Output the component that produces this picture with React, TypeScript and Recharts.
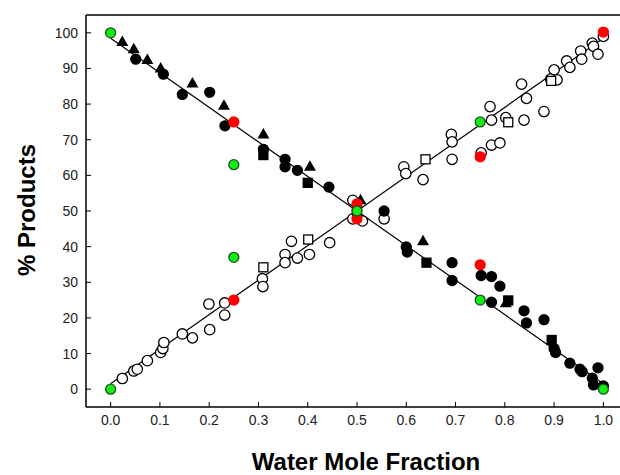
import { ReferenceLine, Scatter, ScatterChart, XAxis, YAxis } from 'recharts';

const xTicks = [0, 0.1, 0.2, 0.3, 0.4, 0.5, 0.6, 0.7, 0.8, 0.9, 1.0];
const yTicks = [0, 10, 20, 30, 40, 50, 60, 70, 80, 90, 100];

// product falling with water fraction (filled symbols)
const fallCircles = [
  { x: 0.051, y: 92.6 }, { x: 0.107, y: 88.4 }, { x: 0.1455, y: 82.7 }, { x: 0.201, y: 83.3 },
  { x: 0.232, y: 73.9 }, { x: 0.31, y: 67.3 }, { x: 0.354, y: 64.5 }, { x: 0.354, y: 62.4 },
  { x: 0.379, y: 61.4 }, { x: 0.443, y: 56.7 }, { x: 0.555, y: 50.0 }, { x: 0.6, y: 39.9 },
  { x: 0.602, y: 38.5 }, { x: 0.693, y: 35.5 }, { x: 0.693, y: 30.5 }, { x: 0.752, y: 31.9 },
  { x: 0.773, y: 31.6 }, { x: 0.79, y: 28.9 }, { x: 0.773, y: 24.4 }, { x: 0.839, y: 22.0 },
  { x: 0.844, y: 18.6 }, { x: 0.8795, y: 19.5 }, { x: 0.9, y: 11.4 }, { x: 0.903, y: 10.3 },
  { x: 0.932, y: 7.3 }, { x: 0.9525, y: 5.6 }, { x: 0.957, y: 4.9 }, { x: 0.989, y: 6.0 },
  { x: 0.9775, y: 3.1 }, { x: 0.98, y: 1.2 }, { x: 1.0, y: 0.9 },
];
const fallTriangles = [
  { x: 0.0237, y: 97.4 }, { x: 0.047, y: 95.4 }, { x: 0.0745, y: 92.4 }, { x: 0.1015, y: 90.0 },
  { x: 0.166, y: 85.8 }, { x: 0.23, y: 79.5 }, { x: 0.31, y: 71.5 }, { x: 0.4045, y: 62.4 },
  { x: 0.507, y: 53.0 }, { x: 0.634, y: 41.5 }, { x: 0.802, y: 24.1 },
];
const fallSquares = [
  { x: 0.31, y: 65.7 }, { x: 0.4, y: 57.9 }, { x: 0.5, y: 50.0 }, { x: 0.641, y: 35.5 },
  { x: 0.807, y: 24.9 }, { x: 0.895, y: 13.8 },
];

// product rising with water fraction (open symbols)
const riseCircles = [
  { x: 0.0237, y: 3.0 }, { x: 0.047, y: 5.1 }, { x: 0.054, y: 5.6 }, { x: 0.0745, y: 8.0 },
  { x: 0.1015, y: 10.3 }, { x: 0.106, y: 11.4 }, { x: 0.108, y: 13.1 }, { x: 0.1455, y: 15.5 },
  { x: 0.166, y: 14.4 }, { x: 0.1995, y: 23.9 }, { x: 0.201, y: 16.7 }, { x: 0.2315, y: 24.2 },
  { x: 0.2315, y: 20.8 }, { x: 0.308, y: 31.0 }, { x: 0.309, y: 28.8 }, { x: 0.354, y: 37.8 },
  { x: 0.354, y: 35.5 }, { x: 0.367, y: 41.5 }, { x: 0.379, y: 36.8 }, { x: 0.4035, y: 37.8 },
  { x: 0.4445, y: 41.1 }, { x: 0.4915, y: 53.0 }, { x: 0.4915, y: 47.8 }, { x: 0.511, y: 47.2 },
  { x: 0.555, y: 47.8 }, { x: 0.595, y: 62.4 }, { x: 0.599, y: 60.5 }, { x: 0.634, y: 58.8 },
  { x: 0.6915, y: 71.5 }, { x: 0.693, y: 69.4 }, { x: 0.693, y: 64.5 }, { x: 0.752, y: 66.3 },
  { x: 0.77, y: 79.3 }, { x: 0.773, y: 75.5 }, { x: 0.773, y: 68.5 }, { x: 0.79, y: 69.1 },
  { x: 0.802, y: 76.2 }, { x: 0.839, y: 75.5 }, { x: 0.834, y: 85.6 }, { x: 0.844, y: 81.6 },
  { x: 0.8795, y: 77.9 }, { x: 0.9, y: 89.6 }, { x: 0.893, y: 87.0 }, { x: 0.906, y: 86.8 },
  { x: 0.9255, y: 92.1 }, { x: 0.932, y: 90.3 }, { x: 0.954, y: 94.9 }, { x: 0.956, y: 92.6 },
  { x: 0.9775, y: 97.1 }, { x: 0.98, y: 96.2 }, { x: 0.989, y: 94.0 }, { x: 1.0, y: 99.0 },
];
const riseSquares = [
  { x: 0.31, y: 34.2 }, { x: 0.401, y: 42.0 }, { x: 0.639, y: 64.5 }, { x: 0.807, y: 74.9 },
  { x: 0.894, y: 86.5 },
];

const redPoints = [
  { x: 0.25, y: 75 }, { x: 0.25, y: 25 }, { x: 0.5, y: 52 }, { x: 0.5, y: 47.8 },
  { x: 0.75, y: 65.2 }, { x: 0.75, y: 34.9 }, { x: 1.0, y: 100.2 },
];
const greenPoints = [
  { x: 0, y: 100 }, { x: 0, y: 0 }, { x: 0.25, y: 63 }, { x: 0.25, y: 37 },
  { x: 0.5, y: 50 }, { x: 0.75, y: 75 }, { x: 0.75, y: 25 }, { x: 1.0, y: 0 },
];

const fallLine = [{ x: 0, y: 98.5 }, { x: 1, y: 1.5 }];
const riseLine = [{ x: 0, y: 1.5 }, { x: 1, y: 98.5 }];

const FONT = '"Liberation Sans", Arial, sans-serif';

const dot = (fill: string, stroke: string, r: number) => (p: any) => (
  <circle cx={p.cx} cy={p.cy} r={r} fill={fill} stroke={stroke} strokeWidth={1.3} />
);
const square = (fill: string) => (p: any) => (
  <rect x={p.cx - 4.5} y={p.cy - 4.5} width={9} height={9} fill={fill} stroke="#000" strokeWidth={1.3} />
);
const triangle = (p: any) => (
  <path d={`M${p.cx},${p.cy - 6.5} L${p.cx + 6},${p.cy + 4} L${p.cx - 6},${p.cy + 4} Z`} fill="#000" />
);
const none = () => <g />;

export default function App() {
  const tick = { fontSize: 14, fill: '#222', fontFamily: FONT };
  return (
    <div style={{ position: 'absolute', left: 0, top: 0, width: 620, height: 475, overflow: 'hidden', background: '#fff' }}>
      <ScatterChart width={628} height={475} margin={{ top: 15, right: 0, bottom: 0, left: 0 }}>
        <XAxis
          type="number"
          dataKey="x"
          domain={[-0.05, 1.05]}
          ticks={xTicks}
          interval={0}
          height={68}
          tickSize={-5}
          tickMargin={13}
          tickFormatter={(v: number) => v.toFixed(1)}
          tick={tick}
          axisLine={{ stroke: '#000', strokeWidth: 1.5 }}
          tickLine={{ stroke: '#000' }}
        />
        <YAxis
          type="number"
          dataKey="y"
          domain={[-5, 105]}
          ticks={yTicks}
          interval={0}
          width={86}
          tickSize={-5}
          tickMargin={13}
          tick={tick}
          axisLine={{ stroke: '#000', strokeWidth: 1.5 }}
          tickLine={{ stroke: '#000' }}
        />
        <ReferenceLine y={105} stroke="#000" strokeWidth={1.5} />
        <Scatter data={fallLine} line={{ stroke: '#000', strokeWidth: 1.2 }} shape={none} isAnimationActive={false} />
        <Scatter data={riseLine} line={{ stroke: '#000', strokeWidth: 1.2 }} shape={none} isAnimationActive={false} />
        <Scatter data={riseCircles} shape={dot('#fff', '#000', 5.2)} isAnimationActive={false} />
        <Scatter data={riseSquares} shape={square('#fff')} isAnimationActive={false} />
        <Scatter data={fallCircles} shape={dot('#000', '#000', 5)} isAnimationActive={false} />
        <Scatter data={fallTriangles} shape={triangle} isAnimationActive={false} />
        <Scatter data={fallSquares} shape={square('#000')} isAnimationActive={false} />
        <Scatter data={redPoints} shape={dot('#ff0000', '#ff0000', 5)} isAnimationActive={false} />
        <Scatter data={greenPoints} shape={dot('#11ee11', '#1f4f1f', 5)} isAnimationActive={false} />
      </ScatterChart>
      <svg width={620} height={475} style={{ position: 'absolute', left: 0, top: 0, pointerEvents: 'none' }}>
        <text x={366} y={470} textAnchor="middle" fontFamily={FONT} fontWeight="bold" fontSize={24} fill="#000">
          Water Mole Fraction
        </text>
        <text transform="rotate(-90)" x={-210} y={35} textAnchor="middle" fontFamily={FONT} fontWeight="bold" fontSize={24} fill="#000">
          % Products
        </text>
      </svg>
    </div>
  );
}
